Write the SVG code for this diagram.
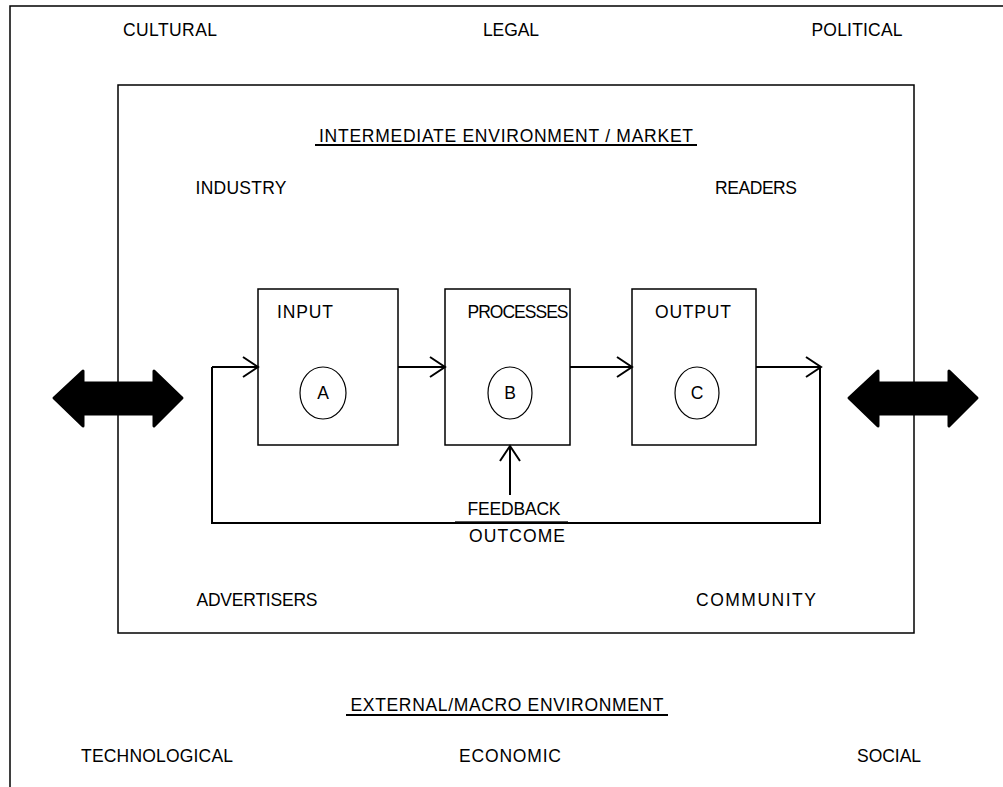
<svg xmlns="http://www.w3.org/2000/svg" width="1003" height="787" viewBox="0 0 1003 787">
<style>
text{font-family:"Liberation Sans",Arial,sans-serif;font-size:17.5px;fill:#000;text-anchor:middle}
.frame{fill:none;stroke:#000;stroke-width:1.5}
.box{fill:#fff;stroke:#000;stroke-width:1.5}
.ln{fill:none;stroke:#000;stroke-width:2}
.ul{stroke:#000;stroke-width:1.8}
.big{fill:#000;stroke:#000;stroke-width:3;stroke-linejoin:round}
</style>
<defs>
<marker id="ah" markerUnits="userSpaceOnUse" markerWidth="20" markerHeight="24" refX="17" refY="12" orient="auto">
<path d="M2,2 L17,12 L2,22" fill="none" stroke="#000" stroke-width="2"/>
</marker>
</defs>
<rect width="1003" height="787" fill="#fff"/>
<g id="outer">
<path class="frame" d="M10,787 V6 H1003" stroke="#666"/>
<text x="170" y="36" textLength="94">CULTURAL</text>
<text x="511" y="36" textLength="56">LEGAL</text>
<text x="857" y="36" textLength="91">POLITICAL</text>
<text x="507" y="711" textLength="313">EXTERNAL/MACRO ENVIRONMENT</text>
<line class="ul" x1="346" y1="715" x2="668" y2="715"/>
<text x="157" y="762" textLength="152">TECHNOLOGICAL</text>
<text x="510" y="762" textLength="102">ECONOMIC</text>
<text x="889" y="762" textLength="64">SOCIAL</text>
</g>
<g id="intermediate">
<rect class="frame" x="118" y="85" width="796" height="548"/>
<text x="506" y="142" textLength="374">INTERMEDIATE ENVIRONMENT / MARKET</text>
<line class="ul" x1="315" y1="145" x2="697" y2="145"/>
<text x="241" y="194" textLength="91">INDUSTRY</text>
<text x="756" y="194" textLength="82">READERS</text>
<text x="257" y="606" textLength="121">ADVERTISERS</text>
<text x="756" y="606" textLength="120">COMMUNITY</text>
</g>
<g id="arrow-left">
<path class="big" d="M54,398 L83,371 L83,383 L154,383 L154,371 L182,398 L154,426 L154,414 L83,414 L83,426 Z"/>
</g>
<g id="arrow-right">
<path class="big" d="M849,398 L878,371 L878,383 L949,383 L949,371 L977,398 L949,426 L949,414 L878,414 L878,426 Z"/>
</g>
<g id="input">
<rect class="box" x="258" y="289" width="140" height="156"/>
<text x="305" y="318" textLength="56">INPUT</text>
<ellipse cx="323" cy="393" rx="23" ry="26" fill="#fff" stroke="#000" stroke-width="1.2"/>
<text x="323" y="399">A</text>
</g>
<g id="processes">
<rect class="box" x="445" y="289" width="125" height="156"/>
<text x="518" y="318" textLength="101">PROCESSES</text>
<ellipse cx="510" cy="393" rx="22" ry="26" fill="#fff" stroke="#000" stroke-width="1.2"/>
<text x="510" y="399">B</text>
</g>
<g id="output">
<rect class="box" x="632" y="289" width="124" height="156"/>
<text x="693" y="318" textLength="76">OUTPUT</text>
<ellipse cx="697" cy="393" rx="22" ry="26" fill="#fff" stroke="#000" stroke-width="1.2"/>
<text x="697" y="399">C</text>
</g>
<g id="feedback">
<text x="514" y="515" textLength="93">FEEDBACK</text>
<line x1="455" y1="522" x2="568" y2="522" stroke="#555" stroke-width="2"/>
<text x="517" y="542" textLength="96">OUTCOME</text>
</g>
<g id="connectors">
<line class="ln" x1="212" y1="367" x2="258" y2="367" marker-end="url(#ah)"/>
<line class="ln" x1="398" y1="367" x2="445" y2="367" marker-end="url(#ah)"/>
<line class="ln" x1="570" y1="367" x2="632" y2="367" marker-end="url(#ah)"/>
<line class="ln" x1="756" y1="367" x2="821" y2="367" marker-end="url(#ah)"/>
<path class="ln" d="M212,367 V523 H820 V367"/>
<line class="ln" x1="510" y1="495" x2="510" y2="446" marker-end="url(#ah)"/>
</g>
</svg>
